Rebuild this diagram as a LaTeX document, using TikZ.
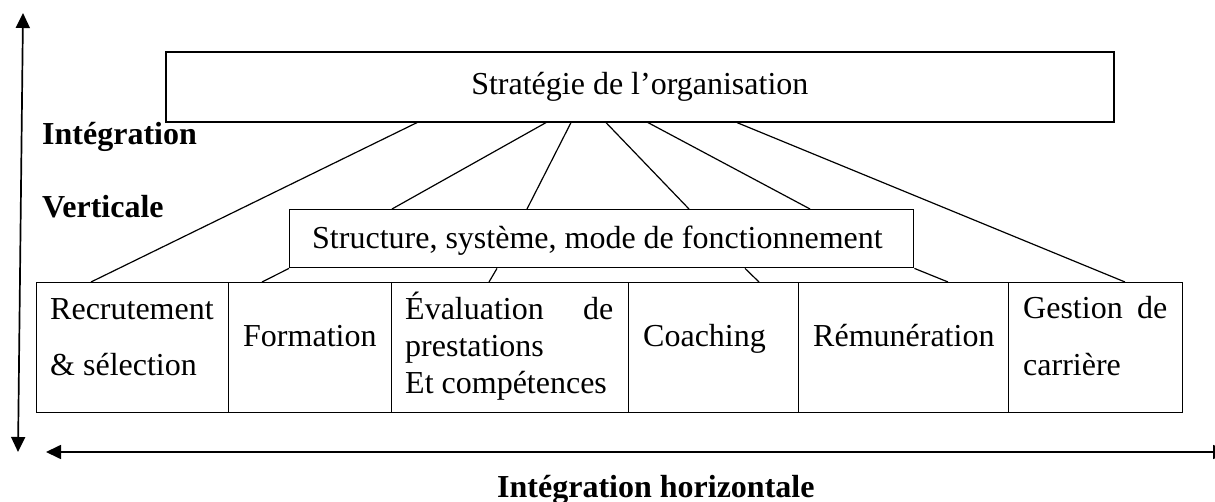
\documentclass[tikz,border=0pt]{standalone}
\usepackage{fontspec}
\setmainfont{Liberation Serif}
\usetikzlibrary{calc,arrows.meta}
\begin{document}
\begin{tikzpicture}[x=1pt,y=-1pt,
  every node/.style={font=\fontsize{32}{38}\selectfont},
  box/.style={draw,rectangle,inner sep=0pt,anchor=north west},
  cell/.style={box,line width=1pt,minimum height=130pt},
  txt/.style={inner sep=0pt,anchor=base west},
  btxt/.style={txt,font=\fontsize{32}{38}\selectfont\bfseries},
  link/.style={line width=1.2pt},
  axis/.style={line width=1.7pt,{Triangle[length=15pt,width=14pt]}-{Triangle[length=15pt,width=14pt]}}
]
\useasboundingbox (0,0) rectangle (1215,502);

% top level: strategy
\node[box,line width=1.6pt,minimum width=948pt,minimum height=70pt] (strat) at (165,51) {Stratégie de l’organisation};
% middle level: structure
\node[box,line width=1.4pt,minimum width=624pt,minimum height=58pt] (struct) at (289,209) {};
\node[txt] (structtxt) at (312,249) {Structure, système, mode de fonctionnement};

% bottom row of HR practices
\node[cell,minimum width=192pt] (c1) at (36,282) {};
\node[cell,minimum width=163pt] (c2) at (228,282) {};
\node[cell,minimum width=237pt] (c3) at (391,282) {};
\node[cell,minimum width=170pt] (c4) at (628,282) {};
\node[cell,minimum width=210pt] (c5) at (798,282) {};
\node[cell,minimum width=174pt] (c6) at (1008,282) {};

\node[txt] (t1a) at (50,320) {Recrutement};
\node[txt] (t1b) at (50,375) {\& sélection};
\node[txt] (t2) at (243,347) {Formation};
\node[txt] (t3a) at (405,320) {\hbox to 208pt{Évaluation\hfill de}};
\node[txt] (t3b) at (405,356) {prestations};
\node[txt] (t3c) at (405,393) {Et compétences};
\node[txt] (t4) at (643,347) {Coaching};
\node[txt] (t5) at (813,347) {Rémunération};
\node[txt] (t6a) at (1023,319) {\hbox to 144pt{Gestion\hfill de}};
\node[txt] (t6b) at (1023,375) {carrière};

% axis labels
\node[btxt] (lv1) at (42,145) {Intégration};
\node[btxt] (lv2) at (42,218) {Verticale};
\node[btxt] (lh) at (497,497) {Intégration horizontale};

% links from the strategy box
\draw[link] ($(strat.south west)+(252,0)$) -- ($(c1.north west)+(55,0)$);
\draw[link] ($(strat.south west)+(381,0)$) -- ($(struct.north west)+(103,0)$);
\draw[link] ($(strat.south west)+(406,0)$) -- ($(struct.north west)+(238,0)$);
\draw[link] ($(strat.south west)+(441,0)$) -- ($(struct.north west)+(400,0)$);
\draw[link] ($(strat.south west)+(483,0)$) -- ($(struct.north west)+(521,0)$);
\draw[link] ($(strat.south west)+(572,0)$) -- ($(c6.north west)+(117,0)$);
% links below the structure box
\draw[link] (struct.south west) -- ($(c2.north west)+(34,0)$);
\draw[link] ($(struct.south west)+(208,0)$) -- ($(c3.north west)+(98,0)$);
\draw[link] ($(struct.south west)+(456,0)$) -- ($(c4.north west)+(131,0)$);
\draw[link] (struct.south east) -- ($(c5.north west)+(150,0)$);

% integration axes
\coordinate (vtop) at (23,13);
\coordinate (vbot) at (18,452);
\coordinate (hleft) at (46,452);
\coordinate (hright) at (1228,452);
\draw[axis] (vbot) -- (vtop);
\draw[axis] (hleft) -- (hright);
\end{tikzpicture}
\end{document}
